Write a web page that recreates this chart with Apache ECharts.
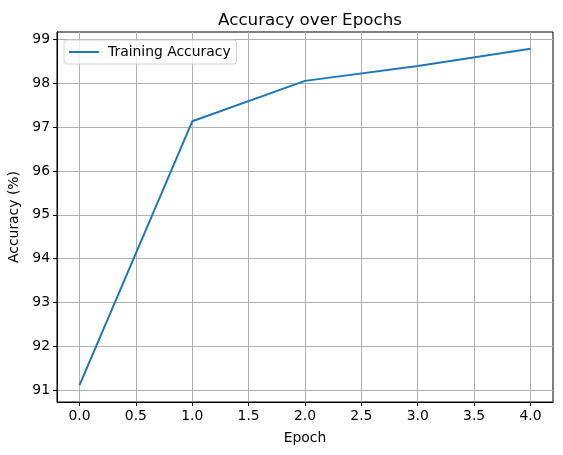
<!DOCTYPE html>
<html><head><meta charset="utf-8">
<script src="https://cdn.jsdelivr.net/npm/echarts@6/dist/echarts.min.js"></script>
<style>html,body{margin:0;padding:0;background:#fff}#c{width:563px;height:455px}</style>
</head><body><div id="c"></div>
<script>
const epochs = [0, 1, 2, 3, 4];
const accuracy = [91.12, 97.13, 98.05, 98.39, 98.78];
const xTicks = [0, 0.5, 1, 1.5, 2, 2.5, 3, 3.5, 4];
const yTicks = [91, 92, 93, 94, 95, 96, 97, 98, 99];
const seriesName = 'Training Accuracy';

const chart = echarts.init(document.getElementById('c'), null, {renderer: 'canvas'});
const font = 'DejaVu Sans';
const xMin = -0.2, xMax = 4.2;
const yr = Math.max(...accuracy) - Math.min(...accuracy);
const yMin = Math.min(...accuracy) - 0.05 * yr, yMax = Math.max(...accuracy) + 0.05 * yr;

chart.setOption({
  animation: false,
  title: {text: 'Accuracy over Epochs', left: 305, top: 7, textAlign: 'center',
    textStyle: {fontFamily: font, fontSize: 16.7, fontWeight: 'normal', color: '#000'}},
  legend: {show: true, left: 64, top: 40, orient: 'vertical',
    itemWidth: 30, itemHeight: 2, itemGap: 0, padding: [5, 6, 5, 5],
    borderColor: '#d0d0d0', borderWidth: 1, borderRadius: 3, backgroundColor: 'rgba(255,255,255,0.8)',
    icon: 'rect',
    textStyle: {fontFamily: font, fontSize: 13.9, color: '#000', padding: [0, 0, 0, 4]},
    data: [{name: seriesName}]},
  grid: {left: 57, right: 10, top: 32, bottom: 53, show: true, borderColor: '#000', borderWidth: 1,
    backgroundColor: 'transparent', containLabel: false, outerBoundsMode: 'none'},
  xAxis: {type: 'value', min: xMin, max: xMax,
    name: 'Epoch', nameLocation: 'middle', nameGap: 29,
    nameTextStyle: {fontFamily: font, fontSize: 13.9, color: '#000'},
    axisLine: {show: true, onZero: false, lineStyle: {color: '#000', width: 1}},
    axisTick: {show: true, length: 4, lineStyle: {color: '#000', width: 1}, customValues: xTicks},
    axisLabel: {fontFamily: font, fontSize: 13.9, color: '#000', margin: 7, customValues: xTicks,
      formatter: v => v.toFixed(1)},
    splitLine: {show: true, lineStyle: {color: '#b0b0b0', width: 1}}},
  yAxis: {type: 'value', min: yMin, max: yMax,
    name: 'Accuracy (%)', nameLocation: 'middle', nameGap: 35, nameRotate: 90,
    nameTextStyle: {fontFamily: font, fontSize: 13.9, color: '#000'},
    axisLine: {show: true, onZero: false, lineStyle: {color: '#000', width: 1}},
    axisTick: {show: true, length: 4, lineStyle: {color: '#000', width: 1}, customValues: yTicks},
    axisLabel: {fontFamily: font, fontSize: 13.9, color: '#000', margin: 7, customValues: yTicks,
      formatter: v => String(Math.round(v))},
    splitLine: {show: true, lineStyle: {color: '#b0b0b0', width: 1}}},
  series: [{name: seriesName, type: 'line', data: epochs.map((e, i) => [e, accuracy[i]]),
    symbol: 'none', lineStyle: {color: '#1f77b4', width: 2}, itemStyle: {color: '#1f77b4'}}]
});
</script></body></html>
